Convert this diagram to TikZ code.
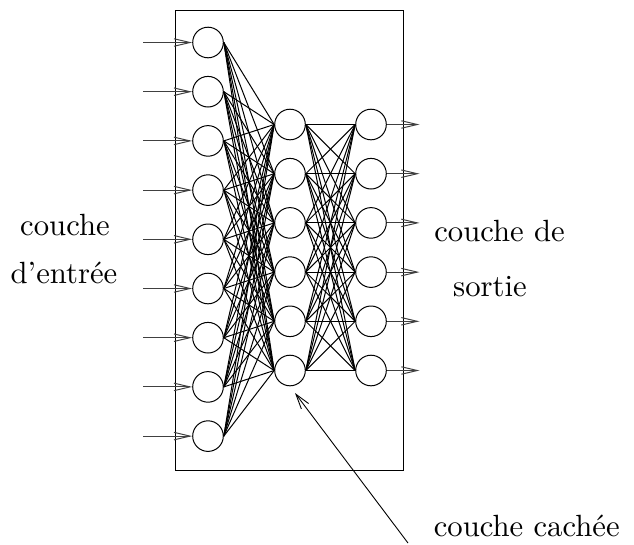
\documentclass[tikz,border=0pt]{standalone}
\usetikzlibrary{arrows.meta}
\begin{document}
\begin{tikzpicture}[x=1pt,y=-1pt,
  neuron/.style={circle,draw,line width=1pt,minimum size=30.6pt,inner sep=0pt},
  wire/.style={line width=1pt},
  inarrow/.style={line width=1pt,draw=black!75,-{Straight Barb[length=16pt,width=7.5pt,line width=1pt]}},
  lbl/.style={anchor=base,inner sep=0pt,scale=3.07,font=\fontsize{10}{12}\selectfont}]
\useasboundingbox (0,0) rectangle (634,544);
% frame
\draw[line width=1pt] (175.7,10) rectangle (403.5,470);
% input layer
\foreach \k in {1,...,9} {
  \node[neuron] (i\k) at (208, {42.5+(\k-1)*49.2}) {};
  \coordinate (s\k) at (143, {42.5+(\k-1)*49.2});
}
% hidden layer and output layer
\foreach \k in {1,...,6} {
  \node[neuron] (h\k) at (290, {124.5+(\k-1)*49.2}) {};
  \node[neuron] (o\k) at (371, {124.5+(\k-1)*49.2}) {};
  \coordinate (e\k) at (419.5, {124.5+(\k-1)*49.2});
}
% connections
\foreach \a in {1,...,9} \foreach \b in {1,...,6}
  \draw[wire] (i\a.east) -- (h\b.west);
\foreach \a in {1,...,6} \foreach \b in {1,...,6}
  \draw[wire] (h\a.east) -- (o\b.west);
% input arrows
\foreach \k in {1,...,9}
  \draw[inarrow] (s\k) -- (i\k.west);
% output arrows
\foreach \k in {1,...,6}
  \draw[inarrow] (o\k.east) -- (e\k);
% labels
\node[lbl] (lin1) at (65,235) {couche};
\node[lbl] (lin2) at (64,283) {d'entrée};
\node[lbl] (lout1) at (499.5,241.7) {couche de};
\node[lbl] (lout2) at (490,296.7) {sortie};
\node[lbl] (lhid) at (526.7,536.7) {couche cachée};
\coordinate (ptail) at (408,543);
\coordinate (ptip) at (295,393);
\draw[line width=0.9pt,-{Straight Barb[length=15pt,width=9pt,line width=0.9pt]}] (ptail) -- (ptip);
\end{tikzpicture}
\end{document}
